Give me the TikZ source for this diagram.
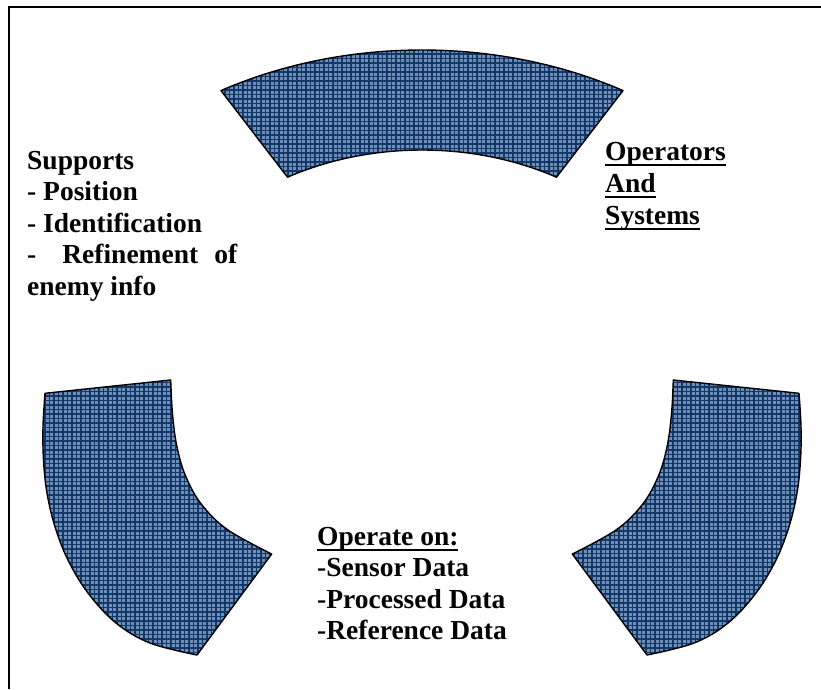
\documentclass[tikz,border=0pt]{standalone}
\usepackage{fontspec}
\setmainfont{Liberation Serif}
\definecolor{patbase}{RGB}{112,142,182}
\definecolor{patline}{RGB}{18,56,106}
\newsavebox\myulbox
\newcommand\myul[1]{\sbox\myulbox{#1}\rlap{\rule[-5.6pt]{\wd\myulbox}{2pt}}\usebox\myulbox}
\def\secTop{(221,90.6) arc[start angle=240, end angle=300, x radius=402, y radius=303] -- (556.5,177.2) arc[start angle=300, end angle=240, x radius=269, y radius=203] -- cycle}
\def\secLeft{plot[smooth, tension=0.6] coordinates {(45,393.3) (43,426.7) (43.5,460) (47,493) (55,526.7) (68,560) (88,593) (116,623) (150,643) (197,655)} -- plot[smooth, tension=0.6] coordinates {(271.7,554) (228,530) (202,505) (186,477) (177,447) (172.5,414) (170.7,380)} -- cycle}
\newcommand\patsector[1]{%
  \begin{scope}
    \clip #1;
    \fill[patbase] (0,0) rectangle (821,689);
    \draw[patline, line width=1.35pt] (0pt,-689pt) grid[step=4.5pt] (821pt,0pt);
  \end{scope}
  \draw[sector] #1;}
\begin{document}
\begin{tikzpicture}[x=1pt,y=-1pt,
  txt/.style={anchor=base west, inner sep=0pt, font=\fontsize{27.5}{31.5}\selectfont\bfseries},
  sector/.style={draw=black, line width=1.4pt, line join=round}]
\useasboundingbox (0,0) rectangle (821,689);
\fill[white] (0,0) rectangle (821,689);
\draw[line width=2pt] (9,689) -- (9,7) -- (821,7);
\patsector{\secTop}
\patsector{\secLeft}
\begin{scope}[xshift=844pt, xscale=-1]
\patsector{\secLeft}
\end{scope}
\node[txt] (s1) at (27,169) {Supports};
\node[txt] (s2) at (27,200.5) {- Position};
\node[txt] (s3) at (27,232) {- Identification};
\node[txt] (s4) at (27,263.5) {\makebox[210pt][l]{-\hspace{26pt}Refinement\hfill of}};
\node[txt] (s5) at (27,295) {enemy info};
\node[txt] (o1) at (605,160.5) {\myul{Operators}};
\node[txt] (o2) at (605,192.5) {\myul{And}};
\node[txt] (o3) at (605,224.5) {\myul{Systems}};
\node[txt] (p1) at (317,545) {\myul{Operate on:}};
\node[txt] (p2) at (317,576.5) {-Sensor Data};
\node[txt] (p3) at (317,608) {-Processed Data};
\node[txt] (p4) at (317,639.5) {-Reference Data};
\end{tikzpicture}
\end{document}
